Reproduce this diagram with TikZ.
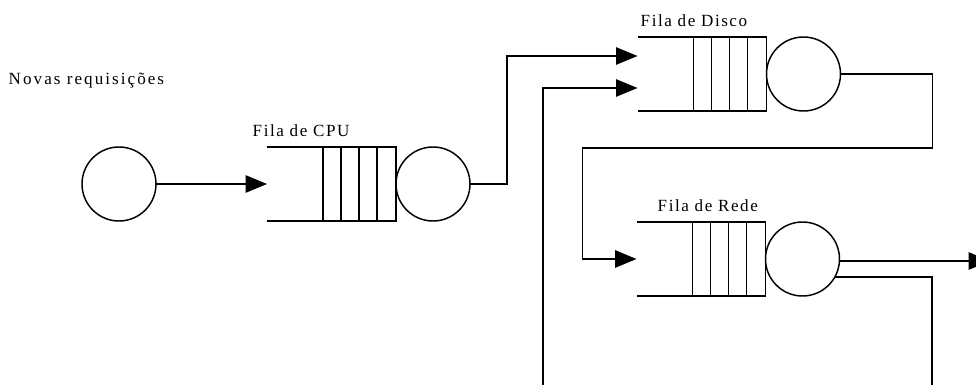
\documentclass[tikz,border=0pt]{standalone}
\usepackage{fontspec}
\setmainfont{Liberation Serif}
\usetikzlibrary{arrows.meta,calc}
\begin{document}
\begin{tikzpicture}[x=0.75pt,y=-0.75pt,
  line width=1.1pt, line join=miter,
  server/.style={circle,draw,minimum size=55.5pt,inner sep=0pt,outer sep=0pt},
  queuebox/.style={rectangle,minimum width=96.75pt,minimum height=55.5pt,inner sep=0pt,outer sep=0pt},
  lbl/.style={anchor=base west,inner sep=0pt,font=\fontsize{12.8pt}{14pt}\selectfont\addfontfeature{LetterSpace=9}},
  flow/.style={-{Triangle[length=16pt,width=13pt]}},
]
\useasboundingbox (0,0) rectangle (976,385);
\clip (0,0) rectangle (976,385);

% source
\node[server] (src) at (119,184) {};
\node[lbl,font=\fontsize{12.8pt}{14pt}\selectfont\addfontfeature{LetterSpace=12}] (nov) at (8,85) {Novas requisições};

% CPU queue
\node[queuebox] (cpuq) at (331.5,184) {};
\node[server,anchor=west] (cpu) at (cpuq.east) {};
\node[lbl] (lcpu) at (252,137) {Fila de CPU};

% Disk queue
\node[queuebox] (diskq) at (702,74) {};
\node[server,anchor=west] (disk) at (diskq.east) {};
\node[lbl] (ldisk) at (640,27) {Fila de Disco};

% Rede queue
\node[queuebox] (redeq) at (701,259) {};
\node[server,anchor=west] (rede) at (redeq.east) {};
\node[lbl] (lrede) at (657,212) {Fila de Rede};

% queue outlines and cells
\foreach \q in {cpuq,diskq,redeq}{
  \draw (\q.north west) -- (\q.north east) -- (\q.south east) -- (\q.south west);
  \foreach \d in {19,37,55,73}{
    \draw ($(\q.north east)+(-\d,0)$) -- ($(\q.south east)+(-\d,0)$);
  }
}

% named ends
\coordinate (din1) at ($(diskq.west)+(0,-18)$);
\coordinate (din2) at ($(diskq.west)+(0,14)$);
\coordinate (fbA) at (543,392);
\coordinate (fbB) at (932,392);
\coordinate (outR) at (990,261);

% connectors
\draw[flow] (src.east) -- (cpuq.west);
\draw[flow] (cpu.east) -- ++(37,0) |- (din1);
\draw[flow] (disk.east) -- ++(92,0) -- ++(0,74) -| ($(redeq.west)+(-54,0)$) -- (redeq.west);
\draw[flow] (fbA) |- (din2);
\draw[flow] (rede.east |- outR) -- (outR);
\draw (rede.-29) -- (fbB |- rede.-29) -- (fbB);
\end{tikzpicture}
\end{document}
